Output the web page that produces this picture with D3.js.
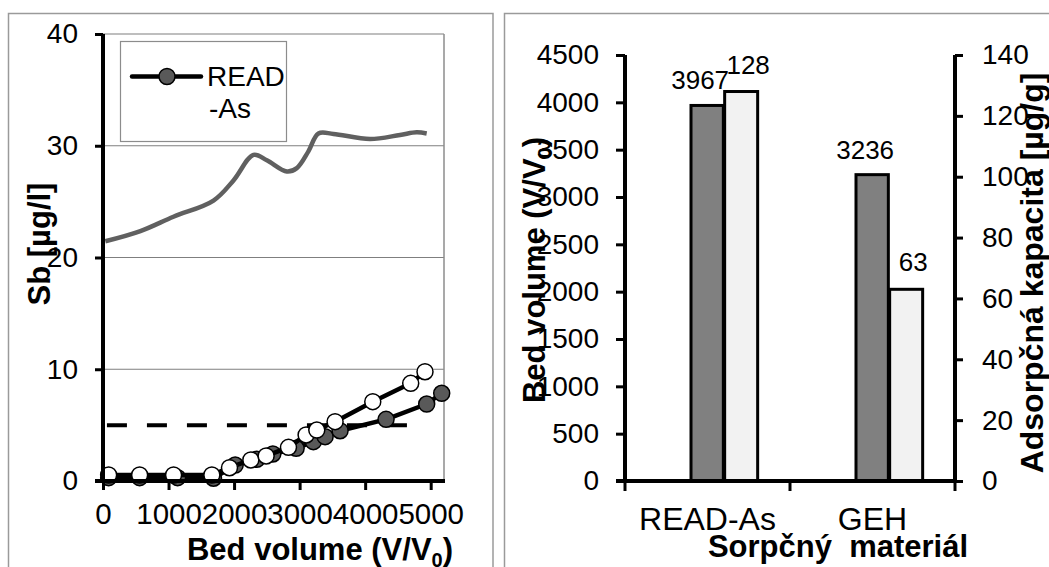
<!DOCTYPE html>
<html><head><meta charset="utf-8">
<script src="https://cdn.jsdelivr.net/npm/d3@7"></script>
<style>
body{margin:0;background:#fff}
svg{display:block}
text{font-family:"Liberation Sans",Arial,Helvetica,sans-serif;fill:#000}
</style>
</head><body>
<svg id="c" width="1049" height="567"></svg>
<script>
// ---------- DATA ----------
// Left chart: Sb concentration vs bed volume
const influentX = [35, 570, 1075, 1686, 1991, 2296, 2500, 2805, 2957, 3134, 3287, 3516, 4075, 4532, 4786, 4939];
const influentY = [21.45, 22.36, 23.65, 25.1, 26.9, 29.18, 28.7, 27.7, 28.0, 29.5, 31.1, 31.06, 30.6, 30.97, 31.2, 31.1];
const readAsX = [86, 559, 1138, 1686, 2017, 2347, 2591, 2947, 3210, 3389, 3617, 4319, 4939, 5168];
const readAsY = [0.3, 0.3, 0.3, 0.25, 1.43, 1.94, 2.42, 2.92, 3.52, 3.97, 4.5, 5.52, 6.89, 7.85];
const gehX = [86, 559, 1077, 1661, 1930, 2256, 2489, 2830, 3099, 3262, 3541, 4116, 4695, 4913];
const gehY = [0.54, 0.54, 0.54, 0.54, 1.19, 1.88, 2.24, 3.01, 4.12, 4.56, 5.31, 7.1, 8.74, 9.78];
const limitX = [60, 4650];
const limitY = [5, 5];
const sbTicks = [0, 10, 20, 30, 40];
const bvTicksLeft = [0, 1000, 2000, 3000, 4000, 5000];
const legendLines = ["READ", "-As"];

// Right chart: bed volume and adsorption capacity per material
const materials = ["READ-As", "GEH"];
const bedVolumes = [3967, 3236];
const capacities = [128, 63];
const bvTicksRight = [0, 500, 1000, 1500, 2000, 2500, 3000, 3500, 4000, 4500];
const capTicks = [0, 20, 40, 60, 80, 100, 120, 140];

// ---------- DRAW ----------
const svg = d3.select("#c");

// panel borders
svg.append("rect").attr("x", 8.5).attr("y", 13.5).attr("width", 484.5).attr("height", 600)
  .attr("fill", "none").attr("stroke", "#9a9a9a").attr("stroke-width", 1.5);
svg.append("rect").attr("x", 504.5).attr("y", 13.5).attr("width", 600).attr("height", 600)
  .attr("fill", "none").attr("stroke", "#9a9a9a").attr("stroke-width", 1.5);

// ===== LEFT CHART =====
const L = {l: 103, r: 444, t: 34, b: 481};
const x = d3.scaleLinear().domain([0, 5203]).range([L.l, L.r]);
const y = d3.scaleLinear().domain([0, 40]).range([L.b, L.t]);

const gl = svg.append("g");
// gridlines
gl.selectAll("line.grid").data(sbTicks.filter(d => d > 0)).join("line")
  .attr("x1", L.l).attr("x2", L.r).attr("y1", d => y(d)).attr("y2", d => y(d))
  .attr("stroke", "#7f7f7f").attr("stroke-width", 1.2);
// plot area right border
gl.append("line").attr("x1", L.r).attr("x2", L.r).attr("y1", L.t).attr("y2", L.b)
  .attr("stroke", "#8c8c8c").attr("stroke-width", 1.5);

// influent line
const toPts = (xs, ys) => xs.map((v, i) => [v, ys[i]]);
const lineGen = d3.line().x(d => x(d[0])).y(d => y(d[1]));
gl.append("path").datum(toPts(influentX, influentY))
  .attr("d", lineGen.curve(d3.curveCatmullRom.alpha(0.5)))
  .attr("fill", "none").attr("stroke", "#606060").attr("stroke-width", 4.5)
  .attr("stroke-linejoin", "round");

// limit dashed line
gl.append("path").datum(toPts(limitX, limitY))
  .attr("d", d3.line().x(d => x(d[0])).y(d => y(d[1])))
  .attr("fill", "none").attr("stroke", "#000").attr("stroke-width", 4)
  .attr("stroke-dasharray", "20,20");

function series(xs, ys, fill) {
  const pts = toPts(xs, ys);
  gl.append("path").datum(pts)
    .attr("d", d3.line().x(d => x(d[0])).y(d => y(d[1])))
    .attr("fill", "none").attr("stroke", "#000").attr("stroke-width", 4.5)
    .attr("stroke-linejoin", "round");
  gl.append("g").selectAll("circle").data(pts).join("circle")
    .attr("cx", d => x(d[0])).attr("cy", d => y(d[1])).attr("r", 8)
    .attr("fill", fill).attr("stroke", "#000").attr("stroke-width", 1.5);
}
series(readAsX, readAsY, "#595959");
series(gehX, gehY, "#ffffff");

// axes
const yAxL = gl.append("g").attr("transform", `translate(${L.l},0)`)
  .call(d3.axisLeft(y).tickValues(sbTicks).tickSize(8).tickSizeOuter(0).tickPadding(17));
const xAxL = gl.append("g").attr("transform", `translate(0,${L.b})`)
  .call(d3.axisBottom(x).tickValues(bvTicksLeft).tickFormat(d3.format("d")).tickSize(9).tickSizeOuter(0).tickPadding(13));
[yAxL, xAxL].forEach(a => {
  a.select(".domain").attr("stroke", "#000").attr("stroke-width", 4);
  a.selectAll(".tick line").attr("stroke", "#000").attr("stroke-width", 3);
  a.selectAll(".tick text").attr("font-size", 28).attr("font-family", "Liberation Sans, Arial, sans-serif").attr("fill", "#000");
});
xAxL.selectAll(".tick text").attr("font-size", 29.5);
xAxL.select(".domain").attr("d", `M${L.l - 8},0H${L.r + 1}`);
yAxL.select(".domain").attr("d", `M0,${L.t}V${L.b + 2}`);

// legend
const lg = gl.append("g");
lg.append("rect").attr("x", 120.5).attr("y", 41.5).attr("width", 166).attr("height", 100)
  .attr("fill", "#fff").attr("stroke", "#8c8c8c").attr("stroke-width", 1.2);
lg.append("line").attr("x1", 132).attr("x2", 201).attr("y1", 76.5).attr("y2", 76.5)
  .attr("stroke", "#000").attr("stroke-width", 4.5).attr("stroke-linecap", "round");
lg.append("circle").attr("cx", 167).attr("cy", 76.5).attr("r", 8)
  .attr("fill", "#595959").attr("stroke", "#000").attr("stroke-width", 1.5);
lg.selectAll("text").data(legendLines).join("text")
  .attr("x", (d, i) => i === 0 ? 207 : 209).attr("y", (d, i) => 86 + i * 32)
  .attr("font-size", 28).text(d => d);

// axis titles
gl.append("text").attr("transform", "translate(50,244) rotate(-90)")
  .attr("text-anchor", "middle").attr("font-size", 31).attr("font-weight", "bold")
  .text("Sb [µg/l]");
const xt = gl.append("text").attr("x", 320).attr("y", 560)
  .attr("text-anchor", "middle").attr("font-size", 31).attr("font-weight", "bold");
xt.append("tspan").text("Bed volume (V/V");
xt.append("tspan").attr("font-size", 20).attr("dy", 7).text("0");
xt.append("tspan").attr("dy", -7).text(")");

// ===== RIGHT CHART =====
const R = {l: 625, r: 955, t: 55, b: 481};
const xb = d3.scaleBand().domain(materials).range([R.l, R.r]);
const yl = d3.scaleLinear().domain([0, 4500]).range([R.b, R.t]);
const yr = d3.scaleLinear().domain([0, 140]).range([R.b, R.t]);
const bw = xb.bandwidth();
const gr = svg.append("g");

// bars
gr.selectAll("rect.bv").data(materials).join("rect")
  .attr("x", d => xb(d) + 0.40 * bw).attr("width", 0.196 * bw)
  .attr("y", (d, i) => yl(bedVolumes[i])).attr("height", (d, i) => R.b - yl(bedVolumes[i]))
  .attr("fill", "#808080").attr("stroke", "#000").attr("stroke-width", 3);
gr.selectAll("rect.cap").data(materials).join("rect")
  .attr("x", d => xb(d) + 0.604 * bw).attr("width", 0.2 * bw)
  .attr("y", (d, i) => yr(capacities[i])).attr("height", (d, i) => R.b - yr(capacities[i]))
  .attr("fill", "#f2f2f2").attr("stroke", "#000").attr("stroke-width", 3);

// data labels
gr.selectAll("text.bvl").data(materials).join("text")
  .attr("x", d => xb(d) + 0.498 * bw - 7).attr("y", (d, i) => yl(bedVolumes[i]) - 16)
  .attr("text-anchor", "middle").attr("font-size", 26).text((d, i) => bedVolumes[i]);
gr.selectAll("text.capl").data(materials).join("text")
  .attr("x", d => xb(d) + 0.704 * bw + 7).attr("y", (d, i) => yr(capacities[i]) - 18)
  .attr("text-anchor", "middle").attr("font-size", 26).text((d, i) => capacities[i]);

// axes
const ylAx = gr.append("g").attr("transform", `translate(${R.l},0)`)
  .call(d3.axisLeft(yl).tickValues(bvTicksRight).tickFormat(d3.format("d")).tickSize(9).tickSizeOuter(0).tickPadding(17));
const yrAx = gr.append("g").attr("transform", `translate(${R.r},0)`)
  .call(d3.axisRight(yr).tickValues(capTicks).tickFormat(d3.format("d")).tickSize(8).tickSizeOuter(0).tickPadding(19));
const xbAx = gr.append("g").attr("transform", `translate(0,${R.b})`)
  .call(d3.axisBottom(xb).tickSize(0).tickSizeOuter(0).tickPadding(26));
[ylAx, yrAx, xbAx].forEach(a => {
  a.select(".domain").attr("stroke", "#000").attr("stroke-width", 4);
  a.selectAll(".tick line").attr("stroke", "#000").attr("stroke-width", 3);
  a.selectAll(".tick text").attr("font-size", 28).attr("font-family", "Liberation Sans, Arial, sans-serif").attr("fill", "#000");
});
xbAx.selectAll(".tick text").attr("font-size", 32);
xbAx.select(".domain").attr("d", `M${R.l - 9},0H${R.r}`);
ylAx.select(".domain").attr("d", `M0,${R.t}V${R.b + 2}`);
yrAx.select(".domain").attr("d", `M0,${R.t}V${R.b + 2}`);
// category separator ticks
const sepTicks = [R.l, R.l + bw, R.r];
gr.selectAll("line.sep").data(sepTicks).join("line")
  .attr("x1", d => d).attr("x2", d => d).attr("y1", R.b).attr("y2", R.b + 10)
  .attr("stroke", "#000").attr("stroke-width", 3);

// titles
gr.append("text").attr("x", 838).attr("y", 557).attr("text-anchor", "middle")
  .attr("font-size", 31).attr("font-weight", "bold").attr("xml:space", "preserve")
  .style("white-space", "pre").text("Sorpčný  materiál");
const ylt = gr.append("text").attr("transform", "translate(545,270) rotate(-90)")
  .attr("text-anchor", "middle").attr("font-size", 31).attr("font-weight", "bold");
ylt.append("tspan").text("Bed volume (V/V");
ylt.append("tspan").attr("font-size", 20).attr("dy", 7).text("0");
ylt.append("tspan").attr("dy", -7).text(")");
gr.append("text").attr("transform", "translate(1043,273) rotate(-90)")
  .attr("text-anchor", "middle").attr("font-size", 32).attr("font-weight", "bold")
  .text("Adsorpčná kapacita [µg/g]");
</script>
</body></html>
